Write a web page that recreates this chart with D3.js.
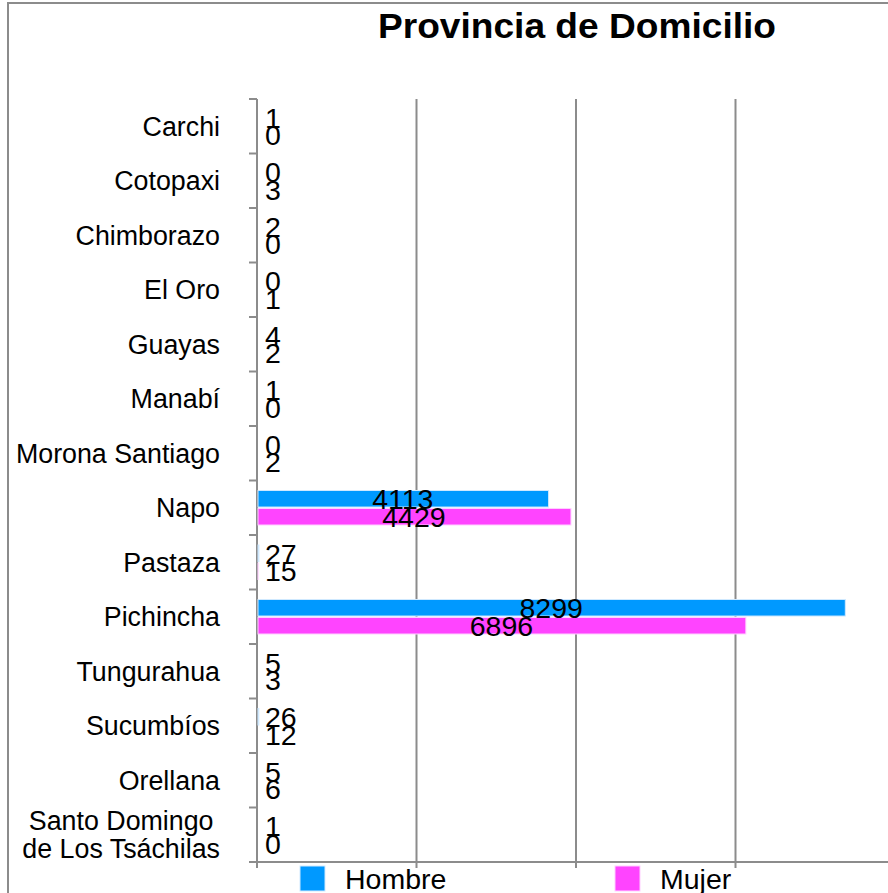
<!DOCTYPE html>
<html>
<head>
<meta charset="utf-8">
<script src="https://cdn.jsdelivr.net/npm/d3@7"></script>
<style>
  html, body { margin: 0; padding: 0; background: #fff; }
  svg { display: block; font-family: "Liberation Sans", Arial, sans-serif; }
</style>
</head>
<body>
<svg id="chart" width="888" height="893"></svg>
<script>
// Provinces of residence (one row each)
const provincias = [
  "Carchi", "Cotopaxi", "Chimborazo", "El Oro", "Guayas", "Manabí",
  "Morona Santiago", "Napo", "Pastaza", "Pichincha", "Tungurahua",
  "Sucumbíos", "Orellana", "Santo Domingo\nde Los Tsáchilas"
];
const hombre = [1, 0, 2, 0, 4, 1, 0, 4113, 27, 8299, 5, 26, 5, 1];
const mujer  = [0, 3, 0, 1, 2, 0, 2, 4429, 15, 6896, 3, 12, 6, 0];
const serieNombres = ["Hombre", "Mujer"];
const serieColores = ["#0099ff", "#ff44ff"];
const ejeTicks = [0, 2250, 4500, 6750, 9000];

const svg = d3.select("#chart");
const gridColor = "#8c8c8c";

// outer frame
svg.append("rect")
  .attr("x", 8).attr("y", 3).attr("width", 900).attr("height", 900)
  .attr("fill", "none").attr("stroke", gridColor).attr("stroke-width", 2);

// title
svg.append("text")
  .attr("x", 577).attr("y", 38)
  .attr("text-anchor", "middle")
  .attr("font-weight", "bold").attr("font-size", 35.5)
  .attr("textLength", 398).attr("lengthAdjust", "spacingAndGlyphs")
  .text("Provincia de Domicilio");

const plotLeft = 257, plotTop = 99, plotBottom = 862;
const x = d3.scaleLinear().domain([0, 9000]).range([plotLeft, plotLeft + 638]);
const y = d3.scaleBand().domain(provincias).range([plotTop, plotBottom]).padding(0);
const sub = d3.scaleBand().domain(serieNombres).range([10, 44.5]).paddingInner(0.08);

// vertical gridlines with ticks below the axis
svg.append("g").selectAll("line")
  .data(ejeTicks.slice(1))
  .join("line")
  .attr("x1", d => x(d)).attr("x2", d => x(d))
  .attr("y1", plotTop).attr("y2", plotBottom + 6)
  .attr("stroke", gridColor).attr("stroke-width", 2);

// bottom axis
svg.append("line")
  .attr("x1", plotLeft - 2).attr("x2", 900)
  .attr("y1", plotBottom).attr("y2", plotBottom)
  .attr("stroke", gridColor).attr("stroke-width", 2);
svg.append("line")
  .attr("x1", plotLeft).attr("x2", plotLeft)
  .attr("y1", plotBottom).attr("y2", plotBottom + 6)
  .attr("stroke", gridColor).attr("stroke-width", 2);

// left axis with band ticks
svg.append("line")
  .attr("x1", plotLeft).attr("x2", plotLeft)
  .attr("y1", plotTop).attr("y2", plotBottom)
  .attr("stroke", gridColor).attr("stroke-width", 2);
const bordes = provincias.map(p => y(p)).concat([plotBottom]);
svg.append("g").selectAll("line")
  .data(bordes)
  .join("line")
  .attr("x1", plotLeft - 8).attr("x2", plotLeft)
  .attr("y1", d => d).attr("y2", d => d)
  .attr("stroke", gridColor).attr("stroke-width", 2);

// category labels: block right-aligned, lines of a block centred on each other
const catG = svg.append("g")
  .attr("font-size", 26.8).attr("text-anchor", "middle").attr("fill", "#000");
const labelRight = 220;
provincias.forEach(p => {
  const lines = p.split("\n");
  const cy = y(p) + y.bandwidth() / 2;
  const lh = 28;
  const nodes = lines.map((ln, i) => catG.append("text")
      .attr("y", cy + (i - (lines.length - 1) / 2) * lh)
      .attr("dy", "0.36em")
      .text(ln));
  const maxW = d3.max(nodes, n => n.node().getComputedTextLength());
  nodes.forEach(n => n.attr("x", labelRight - maxW / 2));
});

// bars
const filas = provincias.map((p, i) => ({ p, vals: [hombre[i], mujer[i]] }));
const barG = svg.append("g");
filas.forEach(f => {
  f.vals.forEach((v, k) => {
    const s = serieNombres[k];
    const by = y(f.p) + sub(s);
    const bw = x(v) - x(0);
    if (bw > 0.5) {
      barG.append("rect")
        .attr("x", x(0) + 1).attr("y", by)
        .attr("width", Math.max(0, bw - 1)).attr("height", sub.bandwidth())
        .attr("fill", serieColores[k])
        .attr("stroke", k === 0 ? "#cfe9ff" : "#ffd0ff").attr("stroke-width", 1);
    }
  });
});

// value labels
const valG = svg.append("g").attr("font-size", 28.5).attr("fill", "#000");
filas.forEach(f => {
  f.vals.forEach((v, k) => {
    const s = serieNombres[k];
    const cy = y(f.p) + sub(s) + sub.bandwidth() / 2;
    const bw = x(v) - x(0);
    const t = valG.append("text").attr("y", cy).attr("dy", "0.36em").text(v);
    if (bw > 120) {
      t.attr("x", x(0) + bw / 2).attr("text-anchor", "middle");
    } else {
      t.attr("x", x(0) + 8).attr("text-anchor", "start");
    }
  });
});

// legend
const legG = svg.append("g");
const legPos = [[300, 345], [615, 660]];
serieNombres.forEach((s, k) => {
  legG.append("rect")
    .attr("x", legPos[k][0]).attr("y", 866)
    .attr("width", 25).attr("height", 25)
    .attr("fill", serieColores[k])
    .attr("stroke", k === 0 ? "#cfe9ff" : "#ffd0ff").attr("stroke-width", 1);
  legG.append("text")
    .attr("x", legPos[k][1]).attr("y", 889)
    .attr("font-size", 28.5)
    .text(s);
});
</script>
</body>
</html>
